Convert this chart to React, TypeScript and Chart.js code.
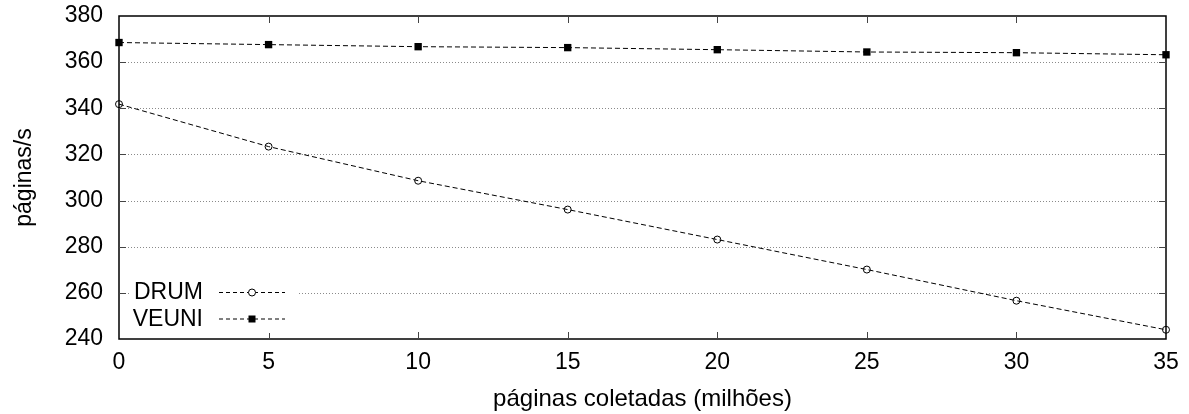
import React, { useEffect, useRef } from "react";
import { Chart, registerables } from "chart.js";

Chart.register(...registerables);

const xValues = [0, 5, 10, 15, 20, 25, 30, 35];
const drumValues = [341.8, 323.4, 308.6, 296.1, 283.1, 270.1, 256.6, 244.0];
const veuniValues = [368.5, 367.6, 366.7, 366.3, 365.4, 364.4, 364.1, 363.2];
const seriesLabels = ["DRUM", "VEUNI"];
const xTitle = "páginas coletadas (milhões)";
const yTitle = "páginas/s";

const FONT = "'Liberation Sans', Arial, Helvetica, sans-serif";

const framePlugin = {
  id: "frame",
  beforeDatasetsDraw(chart: any) {
    const { ctx, chartArea: a, scales } = chart;
    const xs = scales.x;
    const ys = scales.y;
    ctx.save();
    ctx.strokeStyle = "#8a8a8a";
    ctx.lineWidth = 1;
    ctx.setLineDash([1, 2]);
    ys.ticks.forEach((t: any) => {
      if (t.value <= ys.min || t.value >= ys.max) return;
      const y = Math.round(ys.getPixelForValue(t.value)) + 0.5;
      ctx.beginPath();
      ctx.moveTo(a.left, y);
      ctx.lineTo(a.right, y);
      ctx.stroke();
    });
    ctx.setLineDash([]);
    ctx.strokeStyle = "#000";
    ctx.lineWidth = 1.5;
    ctx.strokeRect(a.left, a.top, a.right - a.left, a.bottom - a.top);
    ctx.lineWidth = 1;
    ctx.strokeStyle = "#444";
    const L = 7;
    xs.ticks.forEach((t: any) => {
      if (t.value <= xs.min || t.value >= xs.max) return;
      const x = Math.round(xs.getPixelForValue(t.value)) + 0.5;
      ctx.beginPath();
      ctx.moveTo(x, a.bottom);
      ctx.lineTo(x, a.bottom - L);
      ctx.moveTo(x, a.top);
      ctx.lineTo(x, a.top + L);
      ctx.stroke();
    });
    ys.ticks.forEach((t: any) => {
      if (t.value <= ys.min || t.value >= ys.max) return;
      const y = Math.round(ys.getPixelForValue(t.value)) + 0.5;
      ctx.beginPath();
      ctx.moveTo(a.left, y);
      ctx.lineTo(a.left + L, y);
      ctx.moveTo(a.right, y);
      ctx.lineTo(a.right - L, y);
      ctx.stroke();
    });
    ctx.restore();
  },
  afterDatasetsDraw(chart: any) {
    const { ctx, chartArea: a } = chart;
    ctx.save();
    ctx.fillStyle = "#fff";
    const bx = a.left + 12;
    const by = a.bottom - 62;
    ctx.fillRect(bx, by, 166, 56);
    ctx.font = `23px ${FONT}`;
    ctx.textAlign = "right";
    ctx.textBaseline = "middle";
    const rows = [a.bottom - 46.5, a.bottom - 20];
    chart.data.datasets.forEach((ds: any, i: number) => {
      const y = rows[i];
      ctx.fillStyle = "#000";
      ctx.fillText(ds.label, a.left + 84, y + 0.5);
      ctx.strokeStyle = "#000";
      ctx.lineWidth = 1;
      ctx.setLineDash([4, 3]);
      ctx.beginPath();
      ctx.moveTo(a.left + 100, y);
      ctx.lineTo(a.left + 166, y);
      ctx.stroke();
      ctx.setLineDash([]);
      const mx = a.left + 133;
      if (ds.pointStyle === "circle") {
        ctx.fillStyle = "#fff";
        ctx.beginPath();
        ctx.arc(mx, y, 3.5, 0, Math.PI * 2);
        ctx.fill();
        ctx.stroke();
      } else {
        ctx.fillStyle = "#000";
        ctx.fillRect(mx - 3.5, y - 3.5, 7, 7);
      }
    });
    ctx.restore();
  },
};

export default function App() {
  const ref = useRef<HTMLCanvasElement>(null);
  useEffect(() => {
    document.body.style.margin = "0";
    const chart = new Chart(ref.current!, {
      type: "line",
      data: {
        labels: xValues,
        datasets: [
          {
            label: seriesLabels[0],
            data: xValues.map((x, i) => ({ x, y: drumValues[i] })),
            borderColor: "#000",
            borderWidth: 1,
            borderDash: [5, 3],
            pointStyle: "circle",
            pointRadius: 3.5,
            pointBorderWidth: 1,
            pointBorderColor: "#000",
            pointBackgroundColor: "rgba(255,255,255,0)",
            clip: false,
            tension: 0,
          },
          {
            label: seriesLabels[1],
            data: xValues.map((x, i) => ({ x, y: veuniValues[i] })),
            borderColor: "#000",
            borderWidth: 1,
            borderDash: [5, 3],
            pointStyle: "rect",
            pointRadius: 5.2,
            pointBorderWidth: 0,
            pointBorderColor: "#000",
            pointBackgroundColor: "#000",
            clip: false,
            tension: 0,
          },
        ],
      },
      options: {
        animation: false,
        responsive: false,
        layout: { padding: { top: 16, right: 23, left: 0, bottom: 0 } },
        plugins: { legend: { display: false }, tooltip: { enabled: false } },
        scales: {
          x: {
            type: "linear",
            min: 0,
            max: 35,
            grid: { display: false, drawTicks: false },
            border: { display: false },
            ticks: { stepSize: 5, color: "#000", padding: 10, font: { size: 23, family: FONT }, maxRotation: 0 },
            title: { display: true, text: xTitle, color: "#000", font: { size: 24, family: FONT }, padding: { top: 0, bottom: 0 } },
            afterFit: (s: any) => { s.height = 75; s.paddingLeft = 0; s.paddingRight = 0; },
          },
          y: {
            type: "linear",
            min: 240,
            max: 380,
            grid: { display: false, drawTicks: false },
            border: { display: false },
            ticks: { stepSize: 20, color: "#000", padding: 16, font: { size: 23, family: FONT } },
            title: { display: true, text: yTitle, color: "#000", font: { size: 23, family: FONT }, padding: { top: 11, bottom: 0 } },
            afterFit: (s: any) => { s.width = 119; s.paddingTop = 0; s.paddingBottom = 0; },
          },
        },
      },
      plugins: [framePlugin],
    });
    return () => chart.destroy();
  }, []);
  return (
    <div style={{ position: "absolute", left: 0, top: 0, width: 1189, height: 414 }}>
      <canvas ref={ref} width={1189} height={414} style={{ display: "block" }} />
    </div>
  );
}
